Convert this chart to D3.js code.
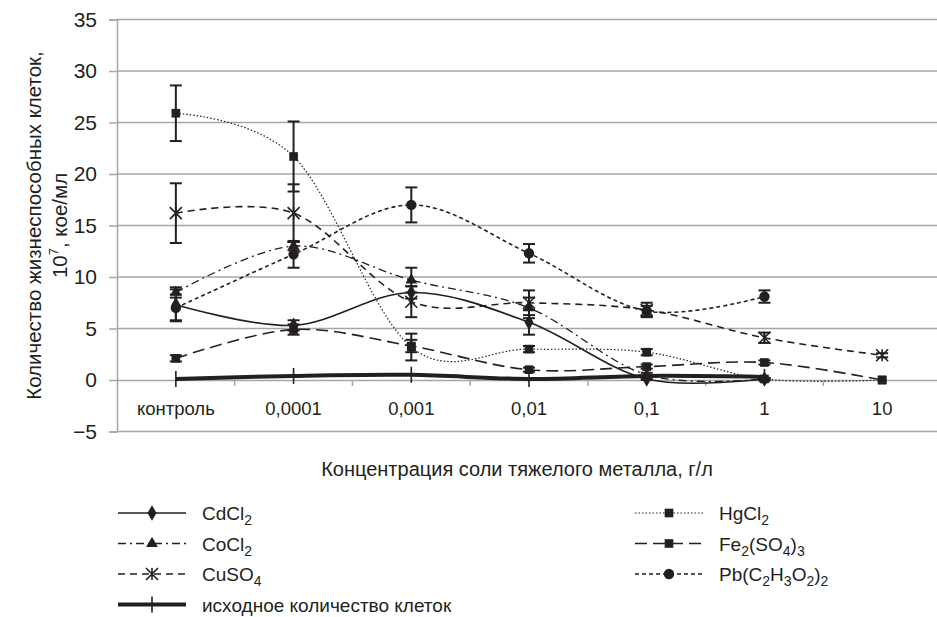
<!DOCTYPE html>
<html>
<head>
<meta charset="utf-8">
<script src="https://cdn.jsdelivr.net/npm/d3@7"></script>
<style>
  body { margin: 0; background: #fff; }
  text { font-family: "Liberation Sans", Arial, sans-serif; fill: #231f20; }
</style>
</head>
<body>
<svg width="937" height="617"></svg>
<script>
// data
const categories = ["контроль", "0,0001", "0,001", "0,01", "0,1", "1", "10"];
const yTicks = [-5, 0, 5, 10, 15, 20, 25, 30, 35];

const cdcl2 = [7.3, 5.3, 8.5, 5.6, 0.1, 0.1, null];
const cdcl2Err = [1.5, 0.5, 0.6, 1.2, 0.1, 0.1, null];
const cocl2 = [8.5, 13.0, 9.7, 7.0, 0.5, 0.1, null];
const cocl2Err = [0.5, 0.4, 1.2, 1.0, 0.2, 0.1, null];
const cuso4 = [16.2, 16.2, 7.6, 7.5, 6.8, 4.1, 2.4];
const cuso4Err = [2.9, 2.8, 1.5, 1.2, 0.7, 0.5, 0.2];
const hgcl2 = [25.9, 21.7, 3.2, 3.0, 2.7, 0.1, 0];
const hgcl2Err = [2.7, 3.4, 1.3, 0.3, 0.3, 0.1, 0];
const fe2so43 = [2.1, 4.9, 3.3, 1.0, 1.3, 1.7, 0];
const fe2so43Err = [0.3, 0.5, 0.6, 0.2, 0.2, 0.2, 0];
const pbAcetate = [7.0, 12.2, 17.0, 12.3, 6.7, 8.1, null];
const pbAcetateErr = [1.3, 1.3, 1.7, 0.9, 0.5, 0.6, null];
const initialCells = [0.1, 0.4, 0.5, 0.1, 0.4, 0.3, null];

// name parts: [text, isSubscript]
const series = [
  { name: [["CdCl", 0], ["2", 1]], values: cdcl2, err: cdcl2Err, dash: null, width: 1.6, marker: "diamond", col: 0, row: 0 },
  { name: [["CoCl", 0], ["2", 1]], values: cocl2, err: cocl2Err, dash: "8,4,2,4", width: 1.3, marker: "triangle", col: 0, row: 1 },
  { name: [["CuSO", 0], ["4", 1]], values: cuso4, err: cuso4Err, dash: "7,5", width: 1.6, marker: "asterisk", col: 0, row: 2 },
  { name: [["исходное количество клеток", 0]], values: initialCells, err: null, dash: null, width: 4, marker: "plus", col: 0, row: 3 },
  { name: [["HgCl", 0], ["2", 1]], values: hgcl2, err: hgcl2Err, dash: "1.5,2", width: 1.2, marker: "square", col: 1, row: 0 },
  { name: [["Fe", 0], ["2", 1], ["(SO", 0], ["4", 1], [")", 0], ["3", 1]], values: fe2so43, err: fe2so43Err, dash: "12,6", width: 1.6, marker: "square", col: 1, row: 1 },
  { name: [["Pb(C", 0], ["2", 1], ["H", 0], ["3", 1], ["O", 0], ["2", 1], [")", 0], ["2", 1]], values: pbAcetate, err: pbAcetateErr, dash: "4,3", width: 1.6, marker: "circle", col: 1, row: 2 }
];

const svg = d3.select("svg");
const grid = "#a6a6a6";
const ink = "#231f20";

const x = d3.scaleBand().domain(categories).range([117, 941]);
const y = d3.scaleLinear().domain([-5, 35]).range([431.5, 19.5]);
const cx = c => x(c) + x.bandwidth() / 2;

// gridlines
svg.append("g")
  .selectAll("line")
  .data(yTicks.filter(d => d !== 0))
  .enter()
  .append("line")
  .attr("x1", 117).attr("x2", 937)
  .attr("y1", d => y(d)).attr("y2", d => y(d))
  .attr("stroke", grid).attr("stroke-width", 1.5);

// y axis
const yAxis = svg.append("g")
  .attr("transform", "translate(117,0)")
  .call(d3.axisLeft(y).tickValues(yTicks).tickSize(8).tickPadding(12)
    .tickFormat(d => d < 0 ? "\u2212" + Math.abs(d) : d));
yAxis.select(".domain").attr("stroke", grid).attr("stroke-width", 1.5);
yAxis.selectAll(".tick line").attr("stroke", grid).attr("stroke-width", 1.5);
yAxis.selectAll(".tick text").style("font-size", "21px").attr("fill", ink);

// x axis sits on zero
const xAxis = svg.append("g")
  .attr("transform", "translate(0," + y(0) + ")")
  .call(d3.axisBottom(x).tickSize(0).tickPadding(22));
xAxis.select(".domain").attr("stroke", grid).attr("stroke-width", 1.5);
xAxis.selectAll(".tick text").style("font-size", "18.5px").attr("fill", ink);
svg.append("g")
  .selectAll("line")
  .data(categories.slice(1))
  .enter()
  .append("line")
  .attr("x1", d => x(d)).attr("x2", d => x(d))
  .attr("y1", y(0)).attr("y2", y(0) + 6)
  .attr("stroke", grid).attr("stroke-width", 1.5);

// axis titles
svg.append("text")
  .attr("transform", "translate(41," + y(15) + ") rotate(-90)")
  .attr("text-anchor", "middle")
  .style("font-size", "20.5px")
  .text("Количество жизнеспособных клеток,");
const yt2 = svg.append("text")
  .attr("transform", "translate(67," + y(15) + ") rotate(-90)")
  .attr("text-anchor", "middle")
  .style("font-size", "20.5px");
yt2.append("tspan").text("10");
yt2.append("tspan").attr("dy", -9).style("font-size", "13px").text("7");
yt2.append("tspan").attr("dy", 9).text(", кое/мл");

svg.append("text")
  .attr("x", 517).attr("y", 476)
  .attr("text-anchor", "middle")
  .style("font-size", "20px")
  .text("Концентрация соли тяжелого металла, г/л");

// markers
function drawMarker(g, type, px, py) {
  if (type === "diamond") {
    g.append("path").attr("d", d3.symbol(d3.symbolDiamond, 70)())
      .attr("transform", `translate(${px},${py})`).attr("fill", ink);
  } else if (type === "triangle") {
    g.append("path").attr("d", d3.symbol(d3.symbolTriangle, 60)())
      .attr("transform", `translate(${px},${py})`).attr("fill", ink);
  } else if (type === "square") {
    g.append("path").attr("d", d3.symbol(d3.symbolSquare, 75)())
      .attr("transform", `translate(${px},${py})`).attr("fill", ink);
  } else if (type === "circle") {
    g.append("path").attr("d", d3.symbol(d3.symbolCircle, 85)())
      .attr("transform", `translate(${px},${py})`).attr("fill", ink);
  } else if (type === "asterisk") {
    const r = 6;
    g.append("path")
      .attr("d", `M${px - r},${py - r}L${px + r},${py + r}M${px - r},${py + r}L${px + r},${py - r}M${px},${py - r}L${px},${py + r}`)
      .attr("stroke", ink).attr("stroke-width", 1.6).attr("fill", "none");
  } else if (type === "plus") {
    g.append("line").attr("x1", px).attr("x2", px).attr("y1", py - 8).attr("y2", py + 8)
      .attr("stroke", ink).attr("stroke-width", 1.6);
  }
}

const line = d3.line()
  .defined(d => d.v !== null)
  .x(d => cx(d.c))
  .y(d => y(d.v))
  .curve(d3.curveCardinal.tension(0));

const plot = svg.append("g");

series.forEach(s => {
  const pts = categories.map((c, i) => ({ c: c, v: s.values[i], e: s.err ? s.err[i] : null }));
  plot.append("path")
    .datum(pts.filter(d => d.v !== null))
    .attr("d", line)
    .attr("fill", "none")
    .attr("stroke", ink)
    .attr("stroke-width", s.width)
    .attr("stroke-dasharray", s.dash);
});

// error bars
series.forEach(s => {
  if (!s.err) return;
  const g = plot.append("g").attr("stroke", ink).attr("stroke-width", 2);
  categories.forEach((c, i) => {
    const v = s.values[i], e = s.err[i];
    if (v === null || e === null || e === 0) return;
    const px = cx(c);
    g.append("line").attr("x1", px).attr("x2", px).attr("y1", y(v - e)).attr("y2", y(v + e));
    g.append("line").attr("x1", px - 6).attr("x2", px + 6).attr("y1", y(v - e)).attr("y2", y(v - e));
    g.append("line").attr("x1", px - 6).attr("x2", px + 6).attr("y1", y(v + e)).attr("y2", y(v + e));
  });
});

series.forEach(s => {
  const g = plot.append("g");
  categories.forEach((c, i) => {
    if (s.values[i] === null) return;
    drawMarker(g, s.marker, cx(c), y(s.values[i]));
  });
});

// legend
const legend = svg.append("g");
series.forEach(s => {
  const lx = s.col === 0 ? 118 : 635;
  const ly = 513 + s.row * 30.5;
  const g = legend.append("g");
  g.append("line")
    .attr("x1", lx).attr("x2", lx + 68)
    .attr("y1", ly).attr("y2", ly)
    .attr("stroke", ink)
    .attr("stroke-width", s.width)
    .attr("stroke-dasharray", s.dash);
  drawMarker(g, s.marker, lx + 34, ly);
  const t = g.append("text")
    .attr("x", lx + 84).attr("y", ly + 7)
    .style("font-size", "19px");
  let sub = false;
  s.name.forEach(([txt, isSub]) => {
    const ts = t.append("tspan").text(txt);
    if (isSub && !sub) { ts.attr("dy", 5).style("font-size", "14px"); sub = true; }
    else if (!isSub && sub) { ts.attr("dy", -5); sub = false; }
    else if (isSub) ts.style("font-size", "14px");
  });
});
</script>
</body>
</html>
